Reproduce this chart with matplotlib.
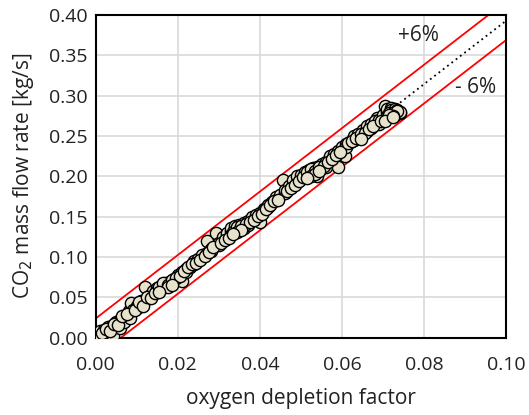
import numpy as np
import matplotlib.pyplot as plt

plt.rcParams['font.family'] = ['Open Sans', 'DejaVu Sans']

# measured points (oxygen depletion factor, CO2 mass flow rate)
odf = [0.000, 0.0005, 0.001, 0.001, 0.002, 0.002, 0.003, 0.003, 0.004, 0.004, 0.0042, 0.005, 0.005, 0.006, 0.006,
       0.007, 0.007, 0.0083, 0.008, 0.0087, 0.009, 0.010, 0.010, 0.011, 0.011, 0.012, 0.012, 0.013, 0.013, 0.014,
       0.014, 0.015, 0.015, 0.016, 0.016, 0.017, 0.017, 0.018, 0.018, 0.019, 0.019, 0.020, 0.020, 0.0211, 0.021,
       0.022, 0.022, 0.023, 0.024, 0.024, 0.025, 0.026, 0.026, 0.027, 0.027, 0.028, 0.028, 0.0294, 0.030, 0.030,
       0.031, 0.031, 0.032, 0.032, 0.033, 0.033, 0.034, 0.034, 0.035, 0.035, 0.036, 0.036, 0.037, 0.037, 0.038,
       0.038, 0.039, 0.040, 0.040, 0.041, 0.041, 0.042, 0.042, 0.043, 0.044, 0.044, 0.045, 0.0457, 0.046, 0.046,
       0.047, 0.047, 0.048, 0.048, 0.049, 0.049, 0.050, 0.050, 0.051, 0.051, 0.052, 0.052, 0.053, 0.053, 0.054,
       0.054, 0.055, 0.055, 0.056, 0.056, 0.057, 0.057, 0.058, 0.0589, 0.059, 0.0607, 0.060, 0.061, 0.061, 0.062,
       0.063, 0.063, 0.064, 0.064, 0.065, 0.065, 0.066, 0.066, 0.067, 0.067, 0.0685, 0.068, 0.069, 0.069, 0.070,
       0.070, 0.0705, 0.071, 0.071, 0.072, 0.072, 0.072, 0.073, 0.073, 0.073, 0.0735, 0.074, 0.074,
       0.0005, 0.0015, 0.0025, 0.0035, 0.0045, 0.0055, 0.0065, 0.0075, 0.0095, 0.0105, 0.0115, 0.0125, 0.0135,
       0.0145, 0.0155, 0.0165, 0.0175, 0.0185, 0.0195, 0.0205, 0.0215, 0.0225, 0.0235, 0.0245, 0.0255, 0.0265,
       0.0275, 0.0285, 0.0305, 0.0315, 0.0325, 0.0335, 0.0345, 0.0355, 0.0365, 0.0375, 0.0385, 0.0395, 0.0405,
       0.0415, 0.0425, 0.0435, 0.0445, 0.0465, 0.0475, 0.0485, 0.0495, 0.0505, 0.0515, 0.0525, 0.0535, 0.0545,
       0.0555, 0.0565, 0.0575, 0.0585, 0.0595, 0.0615, 0.0625, 0.0635, 0.0645, 0.0655, 0.0665, 0.0675, 0.0695,
       0.0715, 0.0725, 0.0735, 0.0725, 0.0715,
       0.0175, 0.0185, 0.0345, 0.0355, 0.0525, 0.0535, 0.0545, 0.0705, 0.0725, 0.0155, 0.0335, 0.0515, 0.0645]
co2 = [0.000, 0.004, 0.002, 0.008, 0.005, 0.010, 0.008, 0.013, 0.015, 0.010, 0.002, 0.018, 0.020, 0.022, 0.012,
       0.025, 0.020, 0.025, 0.033, 0.043, 0.035, 0.040, 0.037, 0.045, 0.042, 0.063, 0.047, 0.052, 0.050, 0.055,
       0.058, 0.062, 0.058, 0.064, 0.061, 0.066, 0.068, 0.069, 0.066, 0.073, 0.070, 0.078, 0.075, 0.070, 0.082,
       0.085, 0.082, 0.088, 0.092, 0.095, 0.098, 0.100, 0.103, 0.105, 0.120, 0.110, 0.107, 0.130, 0.115, 0.118,
       0.122, 0.125, 0.127, 0.130, 0.132, 0.136, 0.135, 0.138, 0.133, 0.140, 0.136, 0.142, 0.145, 0.140, 0.148,
       0.150, 0.152, 0.143, 0.155, 0.160, 0.158, 0.162, 0.165, 0.168, 0.172, 0.175, 0.177, 0.196, 0.180, 0.183,
       0.185, 0.188, 0.190, 0.195, 0.193, 0.200, 0.197, 0.202, 0.205, 0.200, 0.208, 0.203, 0.210, 0.205, 0.200,
       0.212, 0.215, 0.210, 0.218, 0.212, 0.220, 0.225, 0.228, 0.212, 0.232, 0.225, 0.236, 0.240, 0.237, 0.243,
       0.245, 0.250, 0.252, 0.248, 0.255, 0.258, 0.256, 0.262, 0.260, 0.265, 0.272, 0.268, 0.265, 0.270, 0.272,
       0.276, 0.287, 0.280, 0.283, 0.285, 0.278, 0.282, 0.280, 0.284, 0.276, 0.282, 0.278, 0.280,
       0.001, 0.006, 0.011, 0.009, 0.017, 0.016, 0.027, 0.030, 0.034, 0.044, 0.040, 0.051, 0.049,
       0.055, 0.063, 0.068, 0.066, 0.072, 0.074, 0.077, 0.083, 0.088, 0.091, 0.093, 0.097, 0.101,
       0.106, 0.112, 0.117, 0.121, 0.124, 0.131, 0.137, 0.139, 0.141, 0.143, 0.146, 0.151, 0.154,
       0.159, 0.164, 0.170, 0.171, 0.182, 0.186, 0.189, 0.194, 0.199, 0.206, 0.209, 0.207, 0.211,
       0.213, 0.218, 0.222, 0.226, 0.230, 0.241, 0.244, 0.247, 0.253, 0.254, 0.259, 0.263, 0.268,
       0.279, 0.279, 0.281, 0.275, 0.276,
       0.063, 0.065, 0.131, 0.134, 0.200, 0.203, 0.207, 0.269, 0.274, 0.057, 0.128, 0.198, 0.246]

# reference line and +/- 6% band
slope = 3.93
band = 0.024
line_x = [0.0, 0.1]

fig = plt.figure(figsize=(5.29, 4.15), dpi=100)
ax = fig.add_axes([0.181, 0.186, 0.776, 0.778])

ax.grid(True, color='#d9d9d9', linewidth=1.2, zorder=0)
ax.set_axisbelow(True)

lx = np.array(line_x)
ax.plot(lx, slope * lx, color='black', linestyle=(0, (1, 2)), linewidth=1.3, zorder=2)
ax.plot(lx, slope * lx + band, color='#ff0000', linewidth=1.3, zorder=2)
ax.plot(lx, slope * lx - band, color='#ff0000', linewidth=1.3, zorder=2)

ax.scatter(odf, co2, s=78, facecolor='#e6e2cc', edgecolor='black', linewidth=1.0, zorder=3)

ax.set_xlim(0, 0.1)
ax.set_ylim(0, 0.4)
ax.set_xticks(np.arange(0, 0.101, 0.02))
ax.set_yticks(np.arange(0, 0.401, 0.05))
ax.xaxis.set_major_formatter(plt.FormatStrFormatter('%.2f'))
ax.yaxis.set_major_formatter(plt.FormatStrFormatter('%.2f'))
ax.tick_params(length=0, labelsize=14, colors='#222222')
ax.tick_params(axis='x', pad=13)
ax.tick_params(axis='y', pad=6)

for s in ax.spines.values():
    s.set_color('black')
    s.set_linewidth(1.5)

ax.text(0.0737, 0.375, '+6%', fontsize=15, ha='left', va='center', color='#222222')
ax.text(0.0876, 0.31, '- 6%', fontsize=15, ha='left', va='center', color='#222222')

ax.set_xlabel('oxygen depletion factor', fontsize=15, color='#222222', labelpad=10)
ax.set_ylabel('CO$_2$ mass flow rate [kg/s]', fontsize=15, color='#222222', labelpad=9)

fig.savefig('out.png', dpi=100)
